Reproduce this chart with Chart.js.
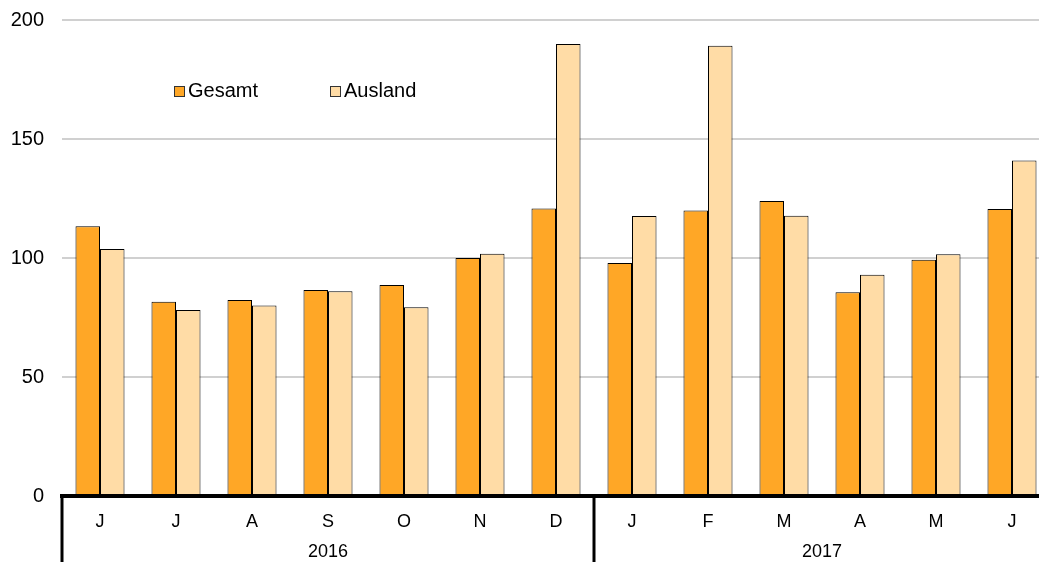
<!DOCTYPE html>
<html lang="de">
<head>
    <meta charset="UTF-8">
    <title>Gesamt / Ausland</title>
    <script src="https://cdn.jsdelivr.net/npm/chart.js"></script>
    <style>
        html, body {
            margin: 0;
            padding: 0;
            background: #ffffff;
            overflow: hidden;
        }
        /* shifted up so the top gridline sits near the page edge */
        .chart-container {
            width: 1050px;
            height: 572px;
            margin-top: -10px;
        }
    </style>
</head>
<body>
    <div class="chart-container">
        <canvas id="chart"></canvas>
    </div>

    <script>
        // Data (June 2016 - June 2017)
        const months = ['J', 'J', 'A', 'S', 'O', 'N', 'D', 'J', 'F', 'M', 'A', 'M', 'J'];
        const years = ['2016', '2017'];
        const monthsPerYear = [7, 6];
        const gesamt = [113.3, 81.6, 82.4, 86.6, 88.7, 100.0, 120.8, 97.9, 120.0, 124.0, 85.6, 99.3, 120.6];
        const ausland = [103.8, 78.2, 80.0, 86.0, 79.3, 101.8, 189.9, 117.6, 189.2, 117.8, 93.0, 101.6, 141.0];
        const yTicks = [0, 50, 100, 150, 200];

        const colGesamt = '#FFA726';
        const colAusland = '#FFDCA6';
        const font = "Arial, 'Liberation Sans', sans-serif";

        // legend inside the plot + two-level axis (months / years)
        const decor = {
            id: 'decor',
            afterDraw(chart) {
                const c = chart.ctx;
                const x = chart.scales.x;
                const area = chart.chartArea;
                const axisY = area.bottom;

                c.save();
                // legend
                const ly = area.top + 66;
                c.font = '20px ' + font;
                c.textBaseline = 'middle';
                c.textAlign = 'left';
                const items = [[chart.data.datasets[0], 174], [chart.data.datasets[1], 330]];
                items.forEach(([ds, lx]) => {
                    c.fillStyle = ds.backgroundColor;
                    c.fillRect(lx, ly, 10, 10);
                    c.strokeStyle = '#333';
                    c.lineWidth = 1;
                    c.strokeRect(lx + 0.5, ly + 0.5, 10, 10);
                    c.fillStyle = '#000';
                    c.fillText(ds.label, lx + 14, ly + 5);
                });

                // thick axis line
                c.strokeStyle = '#000';
                c.lineWidth = 4;
                c.beginPath();
                c.moveTo(area.left - 2, axisY);
                c.lineTo(chart.width, axisY);
                c.stroke();

                // year separators and year labels
                c.lineWidth = 3;
                c.font = '18px ' + font;
                c.textAlign = 'center';
                let start = 0;
                let sepX = area.left;
                years.forEach((yr, i) => {
                    c.beginPath();
                    c.moveTo(sepX, axisY);
                    c.lineTo(sepX, chart.height);
                    c.stroke();
                    const end = start + monthsPerYear[i] - 1;
                    const mid = (x.getPixelForValue(start) + x.getPixelForValue(end)) / 2;
                    c.fillText(yr, mid, axisY + 56);
                    if (end + 1 < months.length) {
                        sepX = (x.getPixelForValue(end) + x.getPixelForValue(end + 1)) / 2;
                    }
                    start = end + 1;
                });
                c.restore();
            }
        };

        new Chart(document.getElementById('chart'), {
            type: 'bar',
            data: {
                labels: months,
                datasets: [
                    {
                        label: 'Gesamt',
                        data: gesamt,
                        backgroundColor: colGesamt,
                        borderColor: '#000',
                        borderWidth: 1
                    },
                    {
                        label: 'Ausland',
                        data: ausland,
                        backgroundColor: colAusland,
                        borderColor: '#000',
                        borderWidth: 1
                    }
                ]
            },
            options: {
                responsive: true,
                maintainAspectRatio: false,
                animation: false,
                categoryPercentage: 0.645,
                barPercentage: 1.0,
                layout: { padding: 0 },
                plugins: {
                    legend: { display: false },
                    tooltip: { enabled: false }
                },
                scales: {
                    x: {
                        offset: true,
                        grid: { display: false },
                        border: { display: false },
                        ticks: {
                            color: '#000',
                            font: { size: 18, family: font },
                            padding: 7,
                            maxRotation: 0
                        },
                        afterFit(scale) { scale.height = 66; }
                    },
                    y: {
                        min: 0,
                        max: 200,
                        afterBuildTicks(scale) {
                            scale.ticks = yTicks.map(v => ({ value: v }));
                        },
                        grid: { color: '#d0d0d0', lineWidth: 2, drawTicks: false },
                        border: { display: false },
                        ticks: {
                            color: '#000',
                            font: { size: 20, family: font },
                            padding: 18
                        },
                        afterFit(scale) { scale.width = 62; }
                    }
                }
            },
            plugins: [decor]
        });
    </script>
</body>
</html>
